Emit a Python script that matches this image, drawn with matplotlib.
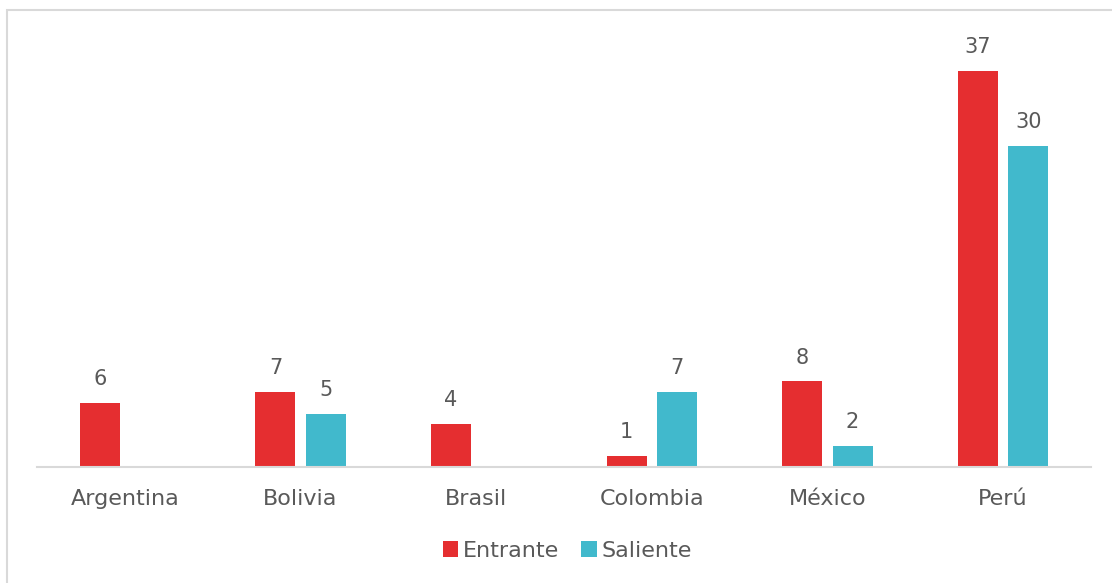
import matplotlib
matplotlib.use("Agg")
import matplotlib.pyplot as plt
from matplotlib.patches import Rectangle, Patch
import numpy as np

categories = ["Argentina", "Bolivia", "Brasil", "Colombia", "México", "Perú"]
entrante = [6, 7, 4, 1, 8, 37]
saliente = [None, 5, None, 7, 2, 30]
series_names = ["Entrante", "Saliente"]

RED = "#E52E30"
TEAL = "#41B9CC"
TXT = "#595959"

plt.rcParams['font.family'] = ['DejaVu Sans']

W, H = 1112, 583
fig = plt.figure(figsize=(W / 100, H / 100), dpi=100)

# outer border (left and top visible; extends beyond right/bottom edges)
fig.add_artist(Rectangle((7 / W, -0.1), 1.2, 1 - 10 / H + 0.1, transform=fig.transFigure,
                         fill=False, edgecolor="#D9D9D9", linewidth=1.5))

ax = fig.add_axes([37 / W, 116 / H, (1091 - 37) / W, (467 - 39) / H])
x = np.arange(len(categories))
bw = 0.227
off = 0.143

e_vals = [v if v is not None else 0 for v in entrante]
s_vals = [v if v is not None else 0 for v in saliente]
ax.bar(x - off, e_vals, bw, color=RED, label=series_names[0])
ax.bar(x + off, s_vals, bw, color=TEAL, label=series_names[1])

for xi, v in zip(x, entrante):
    if v is not None:
        ax.annotate(str(v), (xi - off, v), xytext=(0, 10), textcoords="offset points",
                    ha="center", va="bottom", fontsize=15, color=TXT)
for xi, v in zip(x, saliente):
    if v is not None:
        ax.annotate(str(v), (xi + off, v), xytext=(0, 10), textcoords="offset points",
                    ha="center", va="bottom", fontsize=15, color=TXT)

ax.set_xlim(-0.5, len(categories) - 0.5)
ax.set_ylim(0, 40)
ax.set_xticks(x)
ax.set_xticklabels(categories, fontsize=16, color=TXT)
ax.tick_params(axis="x", length=0, pad=16)
ax.set_yticks([])
for s in ["top", "right", "left"]:
    ax.spines[s].set_visible(False)
ax.spines["bottom"].set_color("#D9D9D9")
ax.spines["bottom"].set_linewidth(1.5)

handles = [Patch(facecolor=RED), Patch(facecolor=TEAL)]
leg = fig.legend(handles, series_names, loc="center", bbox_to_anchor=(567 / W, 1 - 551 / H),
                 ncol=2, frameon=False, fontsize=16, handlelength=0.7, handleheight=0.7,
                 handletextpad=0.2, columnspacing=1.0)
for t in leg.get_texts():
    t.set_color(TXT)

fig.savefig("out.png", dpi=100)
